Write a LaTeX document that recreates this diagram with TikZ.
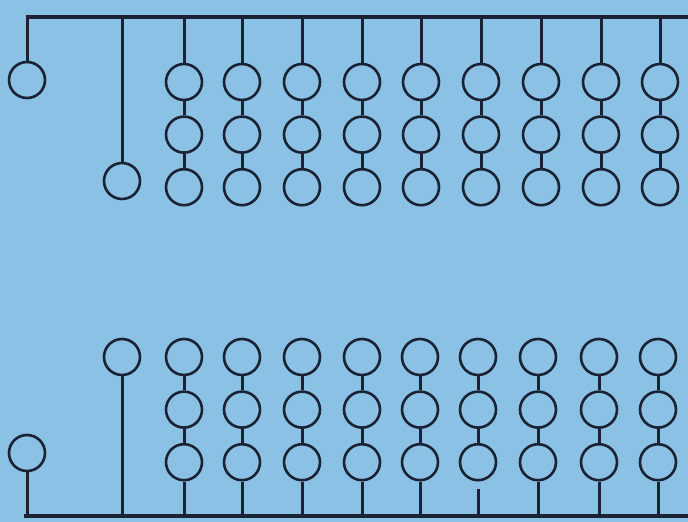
\documentclass[tikz,border=0pt]{standalone}
\usepackage{tikz}
\usetikzlibrary{positioning}
\definecolor{abacusblue}{RGB}{138,193,228}
\definecolor{abacusink}{RGB}{26,34,52}
\tikzset{
    bead/.style={circle, draw=abacusink, line width=2.6pt, minimum size=36pt, inner sep=0pt},
    rod/.style={line width=3pt, abacusink},
    beam/.style={line width=3.6pt, abacusink},
}

\begin{document}
\begin{tikzpicture}[x=1pt,y=-1pt]
    % background
    \useasboundingbox (0,0) rectangle (688,522);
    \fill[abacusblue] (0,0) rectangle (688,522);

    % top beam
    \coordinate (tl) at (26,17);
    \coordinate (tr) at (688,17);
    \draw[beam] (tl) -- (tr);

    % top row, single beads
    \node[bead] (t1) at (27,80) {};
    \draw[rod] (t1 |- tl) -- (t1);
    \node[bead] (t2) at (122,181) {};
    \draw[rod] (t2 |- tl) -- (t2);

    % top row, three beads
    \foreach \x [count=\i from 3] in {184,242,302,362,421,481,541,601,660} {
        \node[bead] (ta\i) at (\x,82) {};
        \node[bead, below=14pt of ta\i] (tb\i) {};
        \node[bead, below=14pt of tb\i] (tc\i) {};
        \draw[rod] (ta\i |- tl) -- (ta\i);
        \draw[rod] (ta\i) -- (tb\i);
        \draw[rod] (tb\i) -- (tc\i);
    }

    % bottom beam
    \coordinate (bl) at (24,516);
    \coordinate (br) at (688,516);
    \draw[beam] (bl) -- (br);

    % bottom row, single beads
    \node[bead] (b1) at (27,453) {};
    \draw[rod] (b1) -- (b1 |- bl);
    \node[bead] (b2) at (122,357) {};
    \draw[rod] (b2) -- (b2 |- bl);

    % bottom row, three beads
    \foreach \x/\g [count=\i from 3] in {184/0,242/0,302/0,362/0,420/0,478/7,538/0,599/0,658/0} {
        \node[bead] (ba\i) at (\x,357) {};
        \node[bead, below=14pt of ba\i] (bb\i) {};
        \node[bead, below=14pt of bb\i] (bc\i) {};
        \draw[rod] (ba\i) -- (bb\i);
        \draw[rod] (bb\i) -- (bc\i);
        \draw[rod, shorten <=\g pt] (bc\i) -- (bc\i |- bl);
    }
\end{tikzpicture}
\end{document}
